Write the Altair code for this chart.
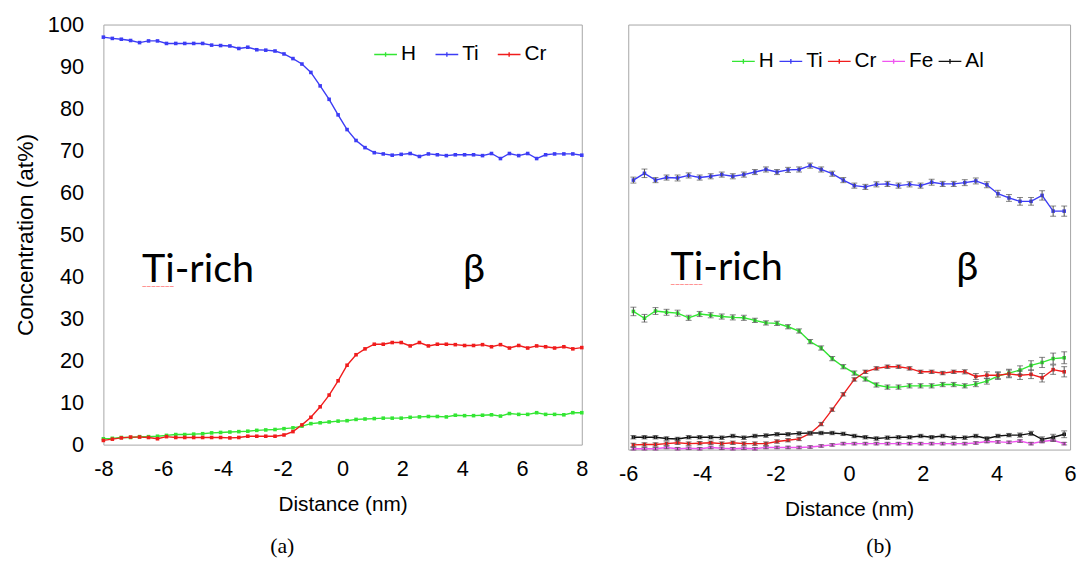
import altair as alt
import pandas as pd

# ---------------- panel (a) ----------------
x_a = [-8.00, -7.70, -7.40, -7.09, -6.79, -6.49, -6.19, -5.89, -5.58, -5.28,
       -4.98, -4.68, -4.38, -4.08, -3.77, -3.47, -3.17, -2.87, -2.57, -2.26,
       -1.96, -1.66, -1.36, -1.06, -0.75, -0.45, -0.15, 0.15, 0.45, 0.75,
       1.06, 1.36, 1.66, 1.96, 2.26, 2.57, 2.87, 3.17, 3.47, 3.77,
       4.08, 4.38, 4.68, 4.98, 5.28, 5.58, 5.89, 6.19, 6.49, 6.79,
       7.09, 7.40, 7.70, 8.00]
H_a = [1.4, 1.5, 1.7, 1.7, 1.9, 1.9, 2.0, 2.2, 2.4, 2.4,
       2.5, 2.6, 2.8, 2.9, 3.0, 3.1, 3.2, 3.4, 3.5, 3.6,
       3.8, 4.0, 4.4, 5.0, 5.2, 5.4, 5.6, 5.7, 6.0, 6.1,
       6.2, 6.3, 6.3, 6.3, 6.5, 6.6, 6.7, 6.7, 6.6, 7.0,
       6.9, 6.9, 7.0, 7.1, 6.8, 7.4, 7.2, 7.2, 7.6, 7.2,
       7.2, 7.1, 7.6, 7.6]
Ti_a = [97.0, 96.7, 96.5, 96.2, 95.7, 96.1, 96.1, 95.5, 95.5, 95.5,
        95.5, 95.5, 95.1, 95.0, 94.9, 94.3, 94.6, 94.0, 93.9, 93.7,
        93.0, 91.9, 90.6, 88.6, 85.4, 82.2, 78.5, 75.0, 72.4, 70.7,
        69.5, 69.2, 68.9, 69.1, 69.3, 68.6, 69.2, 69.0, 68.8, 69.0,
        69.0, 69.0, 68.8, 69.3, 68.1, 69.3, 68.8, 69.3, 68.1, 69.0,
        69.2, 69.2, 69.2, 68.9]
Cr_a = [1.0, 1.3, 1.6, 1.8, 1.8, 1.7, 1.4, 1.9, 1.7, 1.7,
        1.7, 1.7, 1.7, 1.7, 1.6, 1.7, 2.0, 2.0, 2.0, 2.0,
        2.3, 3.1, 4.7, 6.5, 9.0, 11.8, 15.2, 18.9, 21.4, 22.8,
        23.9, 23.9, 24.3, 24.3, 23.5, 24.3, 23.5, 23.9, 23.9, 23.8,
        23.6, 23.6, 23.8, 23.3, 23.8, 23.0, 23.6, 23.0, 23.5, 23.3,
        23.0, 23.3, 22.8, 23.1]

# ---------------- panel (b) ----------------
x_b = [-5.86, -5.56, -5.26, -4.96, -4.66, -4.36, -4.06, -3.76, -3.46, -3.16,
       -2.86, -2.56, -2.26, -1.96, -1.66, -1.36, -1.06, -0.76, -0.46, -0.16,
       0.14, 0.44, 0.74, 1.04, 1.34, 1.64, 1.94, 2.24, 2.54, 2.84,
       3.14, 3.44, 3.74, 4.04, 4.34, 4.64, 4.94, 5.24, 5.54, 5.84]
H_b = [32.5, 30.9, 32.6, 32.3, 32.1, 31.0, 31.9, 31.6, 31.3, 31.1,
       31.0, 30.4, 29.8, 29.7, 28.9, 27.9, 25.4, 23.9, 21.4, 19.5,
       18.0, 16.6, 15.2, 14.7, 14.7, 15.0, 15.0, 15.0, 15.3, 15.3,
       15.0, 15.4, 16.1, 17.3, 18.0, 18.7, 19.8, 20.5, 21.4, 21.6]
Ti_b = [63.4, 65.0, 63.4, 64.0, 63.9, 64.5, 64.0, 64.3, 64.7, 64.3,
        64.7, 65.3, 65.9, 65.3, 65.8, 65.9, 66.8, 65.9, 64.9, 63.4,
        62.1, 61.8, 62.4, 62.5, 62.1, 62.4, 62.1, 62.9, 62.5, 62.5,
        62.8, 63.2, 62.3, 60.2, 59.2, 58.4, 58.4, 59.8, 56.1, 56.1]
Cr_b = [1.1, 1.2, 1.2, 1.4, 1.6, 1.4, 1.5, 1.6, 1.4, 1.6,
        1.4, 1.4, 1.4, 1.9, 2.2, 2.5, 3.8, 6.0, 9.4, 13.0,
        16.5, 18.3, 19.1, 19.5, 19.5, 19.1, 18.3, 18.3, 18.0, 18.3,
        18.3, 17.2, 17.5, 17.5, 17.8, 17.5, 17.7, 16.9, 18.8, 18.3]
Fe_b = [0.2, 0.2, 0.2, 0.5, 0.2, 0.3, 0.2, 0.5, 0.3, 0.2,
        0.3, 0.2, 0.5, 0.5, 0.5, 0.5, 0.6, 0.85, 1.1, 1.4,
        1.4, 1.4, 1.4, 1.4, 1.4, 1.4, 1.4, 1.4, 1.4, 1.4,
        1.4, 1.55, 1.9, 1.8, 1.7, 2.0, 1.4, 1.9, 2.2, 1.4]
Al_b = [2.9, 2.9, 2.9, 2.6, 2.5, 2.9, 2.9, 2.9, 2.8, 3.2,
        2.8, 3.2, 3.3, 3.6, 3.6, 3.8, 3.9, 3.9, 3.9, 3.7,
        3.2, 2.9, 2.6, 2.8, 2.9, 2.9, 3.2, 2.9, 3.2, 2.8,
        2.8, 3.2, 2.6, 3.2, 3.4, 3.4, 3.8, 2.4, 2.9, 3.6]

# error bar half-widths (panel b)
H_b_err = [1.0, 0.9, 0.8, 0.7, 0.7, 0.6, 0.6, 0.6, 0.6, 0.6,
           0.6, 0.5, 0.5, 0.5, 0.5, 0.5, 0.5, 0.5, 0.5, 0.5,
           0.5, 0.5, 0.5, 0.5, 0.5, 0.5, 0.5, 0.5, 0.5, 0.5,
           0.5, 0.6, 0.7, 0.8, 0.9, 1.0, 1.1, 1.2, 1.3, 1.4]
Ti_b_err = [0.7, 1.0, 0.6, 0.6, 0.7, 0.6, 0.6, 0.6, 0.6, 0.6,
            0.6, 0.6, 0.6, 0.6, 0.6, 0.6, 0.6, 0.6, 0.6, 0.6,
            0.6, 0.6, 0.6, 0.6, 0.6, 0.6, 0.6, 0.7, 0.6, 0.6,
            0.7, 0.7, 0.7, 0.8, 0.8, 0.9, 0.9, 1.1, 1.2, 1.2]
Cr_b_err = [0.4, 0.4, 0.4, 0.4, 0.4, 0.4, 0.4, 0.4, 0.4, 0.4,
            0.4, 0.4, 0.4, 0.4, 0.4, 0.4, 0.4, 0.4, 0.4, 0.4,
            0.4, 0.4, 0.4, 0.4, 0.4, 0.4, 0.4, 0.4, 0.4, 0.4,
            0.5, 0.7, 0.8, 0.8, 0.9, 1.0, 1.0, 1.0, 1.1, 1.2]
Fe_b_err = [0.3, 0.3, 0.3, 0.3, 0.3, 0.3, 0.3, 0.3, 0.3, 0.3,
            0.3, 0.3, 0.3, 0.3, 0.3, 0.3, 0.3, 0.3, 0.3, 0.3,
            0.3, 0.3, 0.3, 0.3, 0.3, 0.3, 0.3, 0.3, 0.3, 0.3,
            0.3, 0.3, 0.3, 0.3, 0.3, 0.3, 0.3, 0.3, 0.3, 0.3]
Al_b_err = [0.4, 0.4, 0.4, 0.4, 0.4, 0.4, 0.4, 0.4, 0.4, 0.4,
            0.4, 0.4, 0.4, 0.4, 0.4, 0.4, 0.4, 0.4, 0.4, 0.4,
            0.4, 0.4, 0.4, 0.4, 0.4, 0.4, 0.4, 0.4, 0.4, 0.4,
            0.4, 0.4, 0.4, 0.4, 0.4, 0.5, 0.5, 0.6, 0.7, 0.8]

series_a = ["H", "Ti", "Cr"]
series_b = ["H", "Ti", "Cr", "Fe", "Al"]
palette = {"H": "#33e633", "Ti": "#3c3cf5", "Cr": "#f01c1c", "Fe": "#f055f0", "Al": "#111111"}

xticks_a = [-8, -6, -4, -2, 0, 2, 4, 6, 8]
xticks_b = [-6, -4, -2, 0, 2, 4, 6]
yticks = [0, 10, 20, 30, 40, 50, 60, 70, 80, 90, 100]

ann_labels = ["Ti-rich", "β"]
ann_a_x = [-6.71, 4.03]
ann_a_y = [38.8, 38.8]
ann_b_x = [-4.85, 2.91]
ann_b_y = [40.0, 40.0]

FONT = "Liberation Sans"
SYMBOL = "M-1,0H1M0,-0.2V0.2"


def panel(xs, data, errs, series, xdom, xticks, w, h, leg_x, leg_y, col_pad,
          ann_x, ann_y, sub, sub_dx, sub_off, show_y):
    rows = []
    for s in series:
        for i, xv in enumerate(xs):
            v = data[s][i]
            e = errs[s][i] if errs else 0.0
            rows.append(dict(x=xv, value=v, series=s, lo=v - e, hi=v + e))
    df = pd.DataFrame(rows)

    color = alt.Color(
        "series:N", sort=series,
        scale=alt.Scale(domain=series, range=[palette[s] for s in series]),
        legend=alt.Legend(title=None, orient="none", legendX=leg_x, legendY=leg_y,
                          direction="horizontal", columns=len(series),
                          symbolType=SYMBOL, symbolSize=529, symbolStrokeWidth=1.4,
                          labelFont=FONT, labelFontSize=21, labelColor="black",
                          columnPadding=col_pad, labelOffset=3, padding=0))
    xaxis = alt.Axis(values=xticks, labelExpr="'' + datum.value", title="Distance (nm)",
                     labelPadding=14, titlePadding=15, labelFlush=False)
    yaxis = alt.Axis(values=yticks, title="Concentration (at%)", labelPadding=20,
                     titlePadding=10, titleFontSize=23) if show_y else None
    X = alt.X("x:Q", scale=alt.Scale(domain=xdom, nice=False, zero=False), axis=xaxis)
    Y = alt.Y("value:Q", scale=alt.Scale(domain=[0, 100], nice=False, zero=False), axis=yaxis)

    base = alt.Chart(df)
    layers = [
        base.mark_line(strokeWidth=1.4).encode(x=X, y=Y, color=color),
        base.mark_point(shape="square", size=13, filled=True, opacity=1).encode(x=X, y=Y, color=color),
    ]
    if errs:
        layers.append(
            base.mark_errorbar(ticks=True, size=6, thickness=1, color="#505050").encode(
                x=X,
                y=alt.Y("lo:Q", scale=alt.Scale(domain=[0, 100], nice=False, zero=False), axis=yaxis),
                y2="hi:Q"))
    ann_df = pd.DataFrame({"x": ann_x, "value": ann_y, "label": ann_labels})
    layers.append(alt.Chart(ann_df).mark_text(font="Lato", fontSize=40, align="left",
                                               baseline="alphabetic", color="black").encode(
        x=X, y=Y, text="label:N"))
    squig_df = pd.DataFrame({"x": [ann_x[0]], "value": [ann_y[0] - 1.3], "label": ["~~~~~~~"]})
    layers.append(alt.Chart(squig_df).mark_text(font=FONT, fontSize=8, align="left",
                                                 baseline="middle", color="#ff4040").encode(
        x=X, y=Y, text="label:N"))

    return alt.layer(*layers).properties(
        width=w, height=h,
        title=alt.TitleParams(sub, orient="bottom", anchor="middle", frame="group",
                              font="Liberation Serif", fontSize=22, fontWeight="normal",
                              color="black", dx=sub_dx, offset=sub_off))


chart_a = panel(x_a, {"H": H_a, "Ti": Ti_a, "Cr": Cr_a}, None, series_a, [-8, 8], xticks_a,
                484, 425, 273, 17.5, 16, ann_a_x, ann_a_y, "(a)", -61, 22, True)
chart_b = panel(x_b, {"H": H_b, "Ti": Ti_b, "Cr": Cr_b, "Fe": Fe_b, "Al": Al_b},
                {"H": H_b_err, "Ti": Ti_b_err, "Cr": Cr_b_err, "Fe": Fe_b_err, "Al": Al_b_err},
                series_b, [-6, 6], xticks_b, 447, 430, 104, 24.5, 2, ann_b_x, ann_b_y,
                "(b)", 30, 17, False)

chart = alt.hconcat(chart_a, chart_b, spacing=47, bounds="flush").resolve_scale(
    color="independent", x="independent", y="independent").resolve_legend(
    color="independent").properties(
    padding={"left": 5.5, "top": 1.5, "right": 0, "bottom": 0}).configure_view(
    stroke="#a6a6a6", strokeWidth=1).configure_axis(
    labelFont=FONT, titleFont=FONT, labelFontSize=22, titleFontSize=21,
    labelColor="black", titleColor="black", titleFontWeight="normal",
    grid=False, ticks=False, domain=False)

chart.save("out.html", embed_options={"renderer": "svg", "actions": False})
